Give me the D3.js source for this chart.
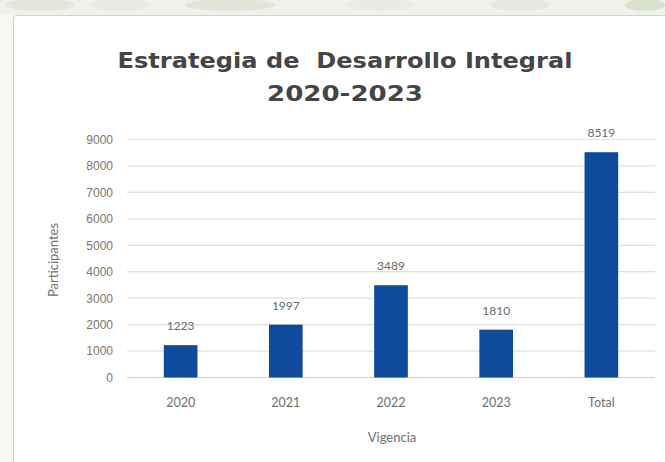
<!DOCTYPE html>
<html>
<head>
<meta charset="utf-8">
<script src="https://cdn.jsdelivr.net/npm/d3@7"></script>
<style>
  body { margin: 0; background: #f7f7f3; }
  svg { display: block; }
</style>
</head>
<body>
<div id="chart"></div>
<script>
// data
var categories = ["2020", "2021", "2022", "2023", "Total"];
var participants = [1223, 1997, 3489, 1810, 8519];
var yTicks = [0, 1000, 2000, 3000, 4000, 5000, 6000, 7000, 8000, 9000];
var titleLines = ["Estrategia de  Desarrollo Integral", "2020-2023"];

var width = 665, height = 462;
var margin = {left: 127, right: 10, top: 139.5, bottom: 84};

var svg = d3.select("#chart").append("svg")
    .attr("width", width)
    .attr("height", height);

// pale strip at the top of the scan
svg.append("rect")
    .attr("x", 0).attr("y", 0)
    .attr("width", width).attr("height", 15)
    .attr("fill", "#f0f1ea");
var blobs = [[40, 70, "#e3e7da"], [120, 60, "#e8ebe1"], [230, 90, "#e0e5d5"], [380, 70, "#eaece4"], [520, 60, "#e6e9df"], [645, 40, "#dbe2cc"]];
svg.selectAll("ellipse.blob")
    .data(blobs)
    .enter()
    .append("ellipse")
    .attr("class", "blob")
    .attr("cx", function(d){ return d[0]; })
    .attr("cy", 5)
    .attr("rx", function(d){ return d[1] / 2; })
    .attr("ry", 6)
    .attr("fill", function(d){ return d[2]; });

// white card
svg.append("rect")
    .attr("x", 13.5).attr("y", 15.5)
    .attr("width", 700).attr("height", 500)
    .attr("rx", 3)
    .attr("fill", "#ffffff")
    .attr("stroke", "#d2d2ce")
    .attr("stroke-width", 1.2);

var x = d3.scaleBand()
    .domain(categories)
    .range([margin.left, width - margin.right])
    .paddingInner(0.68)
    .paddingOuter(0.35);

var y = d3.scaleLinear()
    .domain([0, 9000])
    .range([377.5, margin.top]);

// gridlines
svg.append("g")
    .selectAll("line")
    .data(yTicks)
    .enter()
    .append("line")
    .attr("x1", margin.left)
    .attr("x2", width - margin.right)
    .attr("y1", function(d){ return y(d); })
    .attr("y2", function(d){ return y(d); })
    .attr("stroke", function(d){ return d === 0 ? "#cfcfcf" : "#e0e0e0"; })
    .attr("stroke-width", 1.2);

// y axis labels
var yAxis = d3.axisLeft(y).tickValues(yTicks).tickSize(0).tickPadding(0).tickFormat(d3.format("d"));
var gy = svg.append("g")
    .attr("transform", "translate(113,0)")
    .call(yAxis);
gy.select(".domain").remove();
gy.selectAll("text")
    .attr("fill", "#777777")
    .style("font-family", "'Liberation Sans Narrow', 'Liberation Sans', sans-serif")
    .style("font-size", "12px");

// x axis labels
var xAxis = d3.axisBottom(x).tickSize(0).tickPadding(0);
var gx = svg.append("g")
    .attr("transform", "translate(0,398)")
    .call(xAxis);
gx.select(".domain").remove();
gx.selectAll("text")
    .attr("fill", "#707070")
    .style("font-family", "Lato, sans-serif")
    .style("font-size", "12.5px");

// bars
svg.selectAll("rect.bar")
    .data(participants)
    .enter()
    .append("rect")
    .attr("class", "bar")
    .attr("x", function(d, i){ return x(categories[i]); })
    .attr("y", function(d){ return y(d); })
    .attr("width", x.bandwidth())
    .attr("height", function(d){ return y(0) - y(d); })
    .attr("fill", "#0e4b9c");

// value labels
svg.selectAll("text.val")
    .data(participants)
    .enter()
    .append("text")
    .attr("class", "val")
    .attr("x", function(d, i){ return x(categories[i]) + x.bandwidth() / 2; })
    .attr("y", function(d){ return y(d) - 15; })
    .attr("text-anchor", "middle")
    .attr("fill", "#6a6a6a")
    .style("font-family", "Lato, sans-serif")
    .style("font-size", "12px")
    .text(function(d){ return d; });

// title
svg.selectAll("text.title")
    .data(titleLines)
    .enter()
    .append("text")
    .attr("class", "title")
    .attr("x", 345)
    .attr("y", function(d, i){ return 68 + i * 33; })
    .attr("text-anchor", "middle")
    .attr("fill", "#454545")
    .style("font-family", "'DejaVu Sans', sans-serif")
    .style("font-weight", "bold")
    .style("font-size", "21px")
    .style("white-space", "pre")
    .attr("textLength", function(d, i){ return i === 0 ? 455 : 156; })
    .attr("lengthAdjust", "spacingAndGlyphs")
    .text(function(d){ return d; });

// axis titles
svg.append("text")
    .attr("x", 392)
    .attr("y", 442)
    .attr("text-anchor", "middle")
    .attr("fill", "#707070")
    .style("font-family", "Lato, sans-serif")
    .style("font-size", "13px")
    .text("Vigencia");

svg.append("text")
    .attr("transform", "translate(58,260) rotate(-90)")
    .attr("text-anchor", "middle")
    .attr("fill", "#707070")
    .style("font-family", "Lato, sans-serif")
    .style("font-size", "13px")
    .text("Participantes");
</script>
</body>
</html>
